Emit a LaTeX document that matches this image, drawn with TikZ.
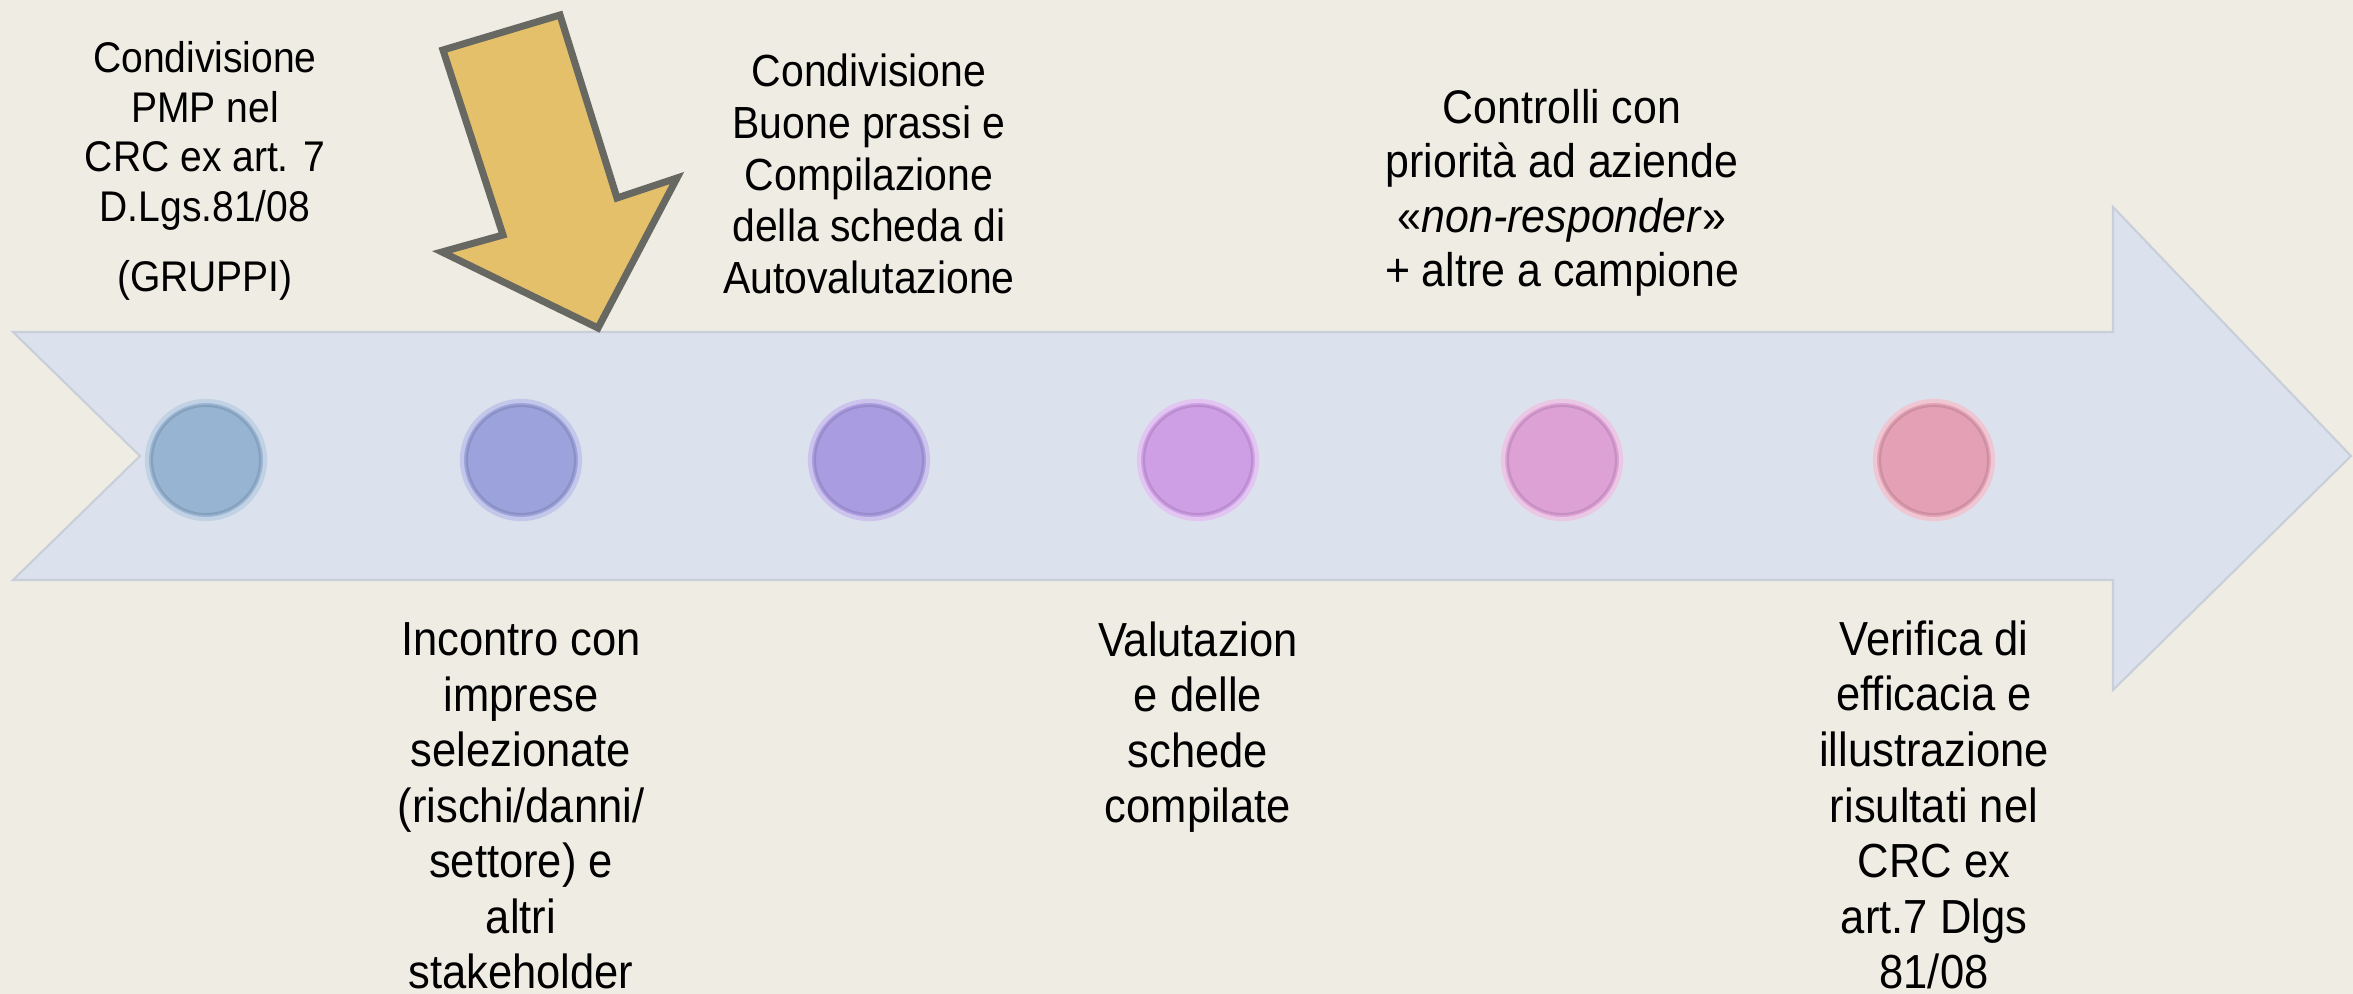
\documentclass[tikz,border=0pt]{standalone}
\usepackage{fontspec}
\setmainfont{Liberation Sans}[FakeStretch=0.91]
\usepackage{xcolor}
\usepackage{tikz}

\definecolor{bgcol}{HTML}{EFECE4}
\definecolor{bandcol}{HTML}{DCE2ED}
\definecolor{bandline}{HTML}{C9CFD9}
\definecolor{yellowcol}{HTML}{E4C06A}
\definecolor{greycol}{HTML}{686862}
\definecolor{dotA}{HTML}{97B4D3}
\definecolor{dotB}{HTML}{9BA2DC}
\definecolor{dotC}{HTML}{AA9CE1}
\definecolor{dotD}{HTML}{CF9FE6}
\definecolor{dotE}{HTML}{DDA1D6}
\definecolor{dotF}{HTML}{E4A1B5}

\tikzset{
  dot/.style={circle, fill=#1, draw=#1!60!white, line width=1.2pt, minimum size=1.18cm, inner sep=0pt},
  dotrim/.style={circle, draw=#1!80!black, line width=0.6pt, minimum size=1.08cm, inner sep=0pt, opacity=0.5},
  label/.style={align=center, inner sep=0pt, font=\fontsize{13.6}{15.8}\selectfont},
}

\begin{document}
\begin{tikzpicture}[x=0.01cm, y=-0.01cm]
  % Background
  \fill[bgcol] (0,0) rectangle (2353,994);
  \useasboundingbox (0,0) rectangle (2353,994);

  % Timeline band
  \fill[bandcol, draw=bandline, line width=0.6pt, line join=miter]
    (13,332) -- (2113,332) -- (2113,207) -- (2351,456) -- (2113,690)
    -- (2113,580) -- (13,580) -- (140,456) -- cycle;

  % Pointer arrow
  \filldraw[fill=yellowcol, draw=greycol, line width=2pt, line join=miter]
    (443,50) -- (560,15) -- (617,198) -- (677,178) -- (598,328)
    -- (442,252) -- (503,235) -- cycle;

  % Draw dots
  \node[dot=dotA] (c1) at (206,460) {};
  \node[dot=dotB] (c2) at (521,460) {};
  \node[dot=dotC] (c3) at (869,460) {};
  \node[dot=dotD] (c4) at (1198,460) {};
  \node[dot=dotE] (c5) at (1562,460) {};
  \node[dot=dotF] (c6) at (1934,460) {};
  \node[dotrim=dotA] at (c1) {};
  \node[dotrim=dotB] at (c2) {};
  \node[dotrim=dotC] at (c3) {};
  \node[dotrim=dotD] at (c4) {};
  \node[dotrim=dotE] at (c5) {};
  \node[dotrim=dotF] at (c6) {};

  % Upper labels
  \node[label, font=\fontsize{12.2}{14.1}\selectfont] (t1) at (205,171)
    {Condivisione\\PMP nel\\CRC ex art. 7\\D.Lgs.81/08\\[0.21cm](GRUPPI)};
  \node[label, font=\fontsize{12.8}{14.7}\selectfont] (t3) at (869,174)
    {Condivisione\\Buone prassi e\\Compilazione\\della scheda di\\Autovalutazione};
  \node[label, font=\fontsize{13.4}{15.5}\selectfont] (t5) at (1562,193)
    {Controlli con\\priorità ad aziende\\«\textit{non-responder}»\\+ altre a campione};

  % Lower labels
  \node[label] (t2) at (521,806)
    {Incontro con\\imprese\\selezionate\\(rischi/danni/\\settore) e\\altri\\stakeholder};
  \node[label] (t4) at (1198,727)
    {Valutazion\\e delle\\schede\\compilate};
  \node[label] (t6) at (1934,805)
    {Verifica di\\efficacia e\\illustrazione\\risultati nel\\CRC ex\\art.7 Dlgs\\81/08};
\end{tikzpicture}
\end{document}
